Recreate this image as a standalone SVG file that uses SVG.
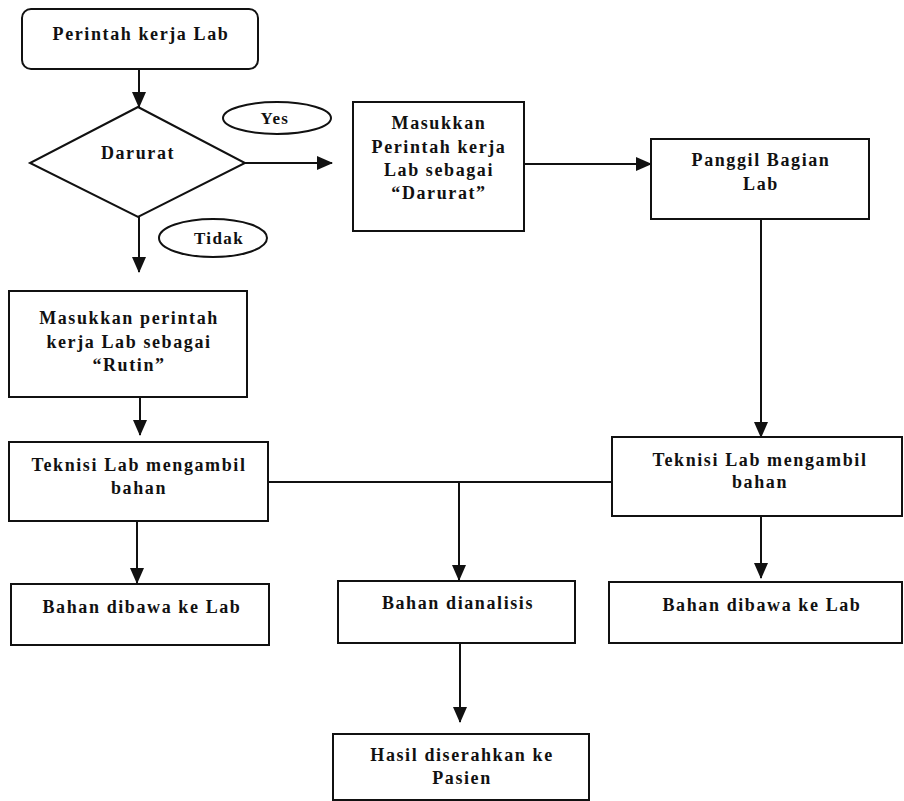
<svg xmlns="http://www.w3.org/2000/svg" width="904" height="801" viewBox="0 0 904 801">
<style>
.box{fill:#fff;stroke:#111;stroke-width:2}
.ln{fill:none;stroke:#111;stroke-width:2}
text{font-family:"Liberation Serif","Times New Roman",serif;font-weight:bold;font-size:18px;letter-spacing:1.6px;text-anchor:middle;fill:#111}
.sm{font-size:17px;letter-spacing:1.4px}
</style>
<defs>
<marker id="ah" markerUnits="userSpaceOnUse" markerWidth="16" markerHeight="14" refX="15" refY="7" orient="auto">
<path d="M0,0 L16,7 L0,14 Z" fill="#111"/>
</marker>
</defs>
<rect width="904" height="801" fill="#fff"/>
<g id="connectors">
<line class="ln" x1="139" y1="69" x2="139" y2="107" marker-end="url(#ah)"/>
<line class="ln" x1="245" y1="163" x2="332" y2="163" marker-end="url(#ah)"/>
<line class="ln" x1="139" y1="217" x2="139" y2="272" marker-end="url(#ah)"/>
<line class="ln" x1="140" y1="397" x2="140" y2="435" marker-end="url(#ah)"/>
<line class="ln" x1="524" y1="164" x2="651" y2="164" marker-end="url(#ah)"/>
<line class="ln" x1="761" y1="219" x2="761" y2="437" marker-end="url(#ah)"/>
<line class="ln" x1="268" y1="482" x2="612" y2="482"/>
<line class="ln" x1="459" y1="482" x2="459" y2="580" marker-end="url(#ah)"/>
<line class="ln" x1="460" y1="643" x2="460" y2="722" marker-end="url(#ah)"/>
<line class="ln" x1="761" y1="516" x2="761" y2="578" marker-end="url(#ah)"/>
<line class="ln" x1="137" y1="521" x2="137" y2="583" marker-end="url(#ah)"/>
</g>
<g id="label-yes">
<ellipse class="box" cx="277" cy="118" rx="54" ry="16"/>
<text class="sm" x="275" y="124">Yes</text>
</g>
<g id="label-tidak">
<ellipse class="box" cx="213" cy="238" rx="54" ry="19"/>
<text class="sm" x="219" y="244">Tidak</text>
</g>
<g id="n-start">
<rect class="box" x="22" y="9" width="236" height="60" rx="9"/>
<text x="141" y="40">Perintah kerja Lab</text>
</g>
<g id="n-darurat">
<polygon class="box" points="138,107 245,163 138,217 30,163"/>
<text x="138" y="159">Darurat</text>
</g>
<g id="n-masuk-darurat">
<rect class="box" x="353" y="102" width="171" height="129"/>
<text x="439" y="129">Masukkan</text>
<text x="439" y="153">Perintah kerja</text>
<text x="439" y="176">Lab sebagai</text>
<text x="439" y="199">“Darurat”</text>
</g>
<g id="n-panggil">
<rect class="box" x="651" y="139" width="218" height="80"/>
<text x="761" y="166">Panggil Bagian</text>
<text x="761" y="190">Lab</text>
</g>
<g id="n-rutin">
<rect class="box" x="9" y="291" width="238" height="106"/>
<text x="129" y="324">Masukkan perintah</text>
<text x="129" y="348">kerja Lab sebagai</text>
<text x="129" y="371">“Rutin”</text>
</g>
<g id="n-teknisi-left">
<rect class="box" x="9" y="442" width="259" height="79"/>
<text x="139" y="471">Teknisi Lab mengambil</text>
<text x="139" y="494">bahan</text>
</g>
<g id="n-teknisi-right">
<rect class="box" x="612" y="437" width="290" height="79"/>
<text x="760" y="466">Teknisi Lab mengambil</text>
<text x="760" y="488">bahan</text>
</g>
<g id="n-bawa-left">
<rect class="box" x="11" y="584" width="258" height="61"/>
<text x="142" y="613">Bahan dibawa ke Lab</text>
</g>
<g id="n-analisis">
<rect class="box" x="338" y="581" width="237" height="62"/>
<text x="458" y="609">Bahan dianalisis</text>
</g>
<g id="n-bawa-right">
<rect class="box" x="609" y="582" width="293" height="61"/>
<text x="762" y="611">Bahan dibawa ke Lab</text>
</g>
<g id="n-hasil">
<rect class="box" x="333" y="734" width="256" height="66"/>
<text x="462" y="761">Hasil diserahkan ke</text>
<text x="462" y="784">Pasien</text>
</g>
</svg>
